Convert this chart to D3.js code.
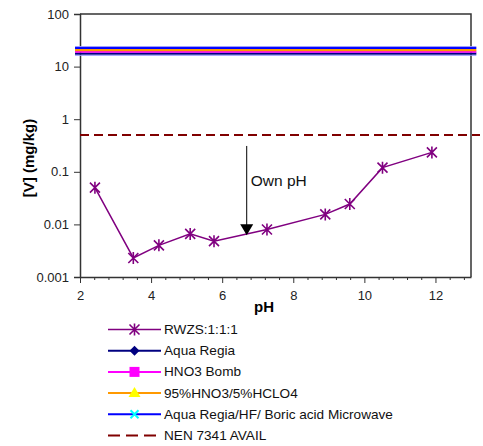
<!DOCTYPE html>
<html>
<head>
<meta charset="utf-8">
<script src="https://cdn.jsdelivr.net/npm/d3@7"></script>
<style>
  body { margin: 0; background: #fff; }
  text { font-family: "Liberation Sans", Arial, sans-serif; }
</style>
</head>
<body>
<div id="chart"></div>
<script>
// leachate data (pH vs V concentration)
const phValues = [2.42, 3.50, 4.22, 5.10, 5.77, 7.26, 8.90, 9.59, 10.51, 11.90];
const vValues = [0.050, 0.0023, 0.0040, 0.0066, 0.0048, 0.0080, 0.0155, 0.0244, 0.120, 0.234];

// total content lines (constant over pH)
const totalNames = ["Aqua Regia", "HNO3 Bomb", "95%HNO3/5%HCLO4", "Aqua Regia/HF/ Boric acid Microwave"];
const totalValues = [17.7, 19.3, 20.6, 22.5];
const totalPhRange = [1.86, 13.15];

// limit line
const nenName = "NEN 7341 AVAIL";
const nenValue = 0.5;

// arrow marking own pH
const ownPh = 6.69;
const ownPhFrom = 0.31;
const ownPhTo = 0.0062;

const yTicks = [0.001, 0.01, 0.1, 1, 10, 100];
const yTickLabels = ["0.001", "0.01", "0.1", "1", "10", "100"];
const xTicks = [2, 4, 6, 8, 10, 12];

const svg = d3.select('#chart')
    .append('svg')
    .attr('width', 483)
    .attr('height', 446)
    .style('background-color', '#fff');

const margin = {top: 14, right: 12, bottom: 169, left: 80};
const plotW = 483 - margin.left - margin.right;
const plotH = 446 - margin.top - margin.bottom;

const x = d3.scaleLinear().domain([2, 13]).range([margin.left, margin.left + plotW]);
const y = d3.scaleLog().domain([0.001, 100]).range([margin.top + plotH, margin.top]);

const axisColor = '#333';

// plot frame (top and right)
svg.append('path')
    .attr('d', `M${x(2)},${y(100)}H${x(13)}V${y(0.001)}`)
    .attr('fill', 'none')
    .attr('stroke', axisColor)
    .attr('stroke-width', 1.5);

// y axis
const yAxis = svg.append('g')
    .attr('transform', `translate(${margin.left},0)`)
    .call(d3.axisLeft(y)
        .tickValues(yTicks)
        .tickFormat((d, i) => yTickLabels[i])
        .tickSize(6)
        .tickPadding(5));
yAxis.select('.domain').attr('stroke', axisColor).attr('stroke-width', 1.5);
yAxis.selectAll('line').attr('stroke', axisColor);
yAxis.selectAll('text').style('font-size', '13px').attr('fill', '#222');

// x axis - minor ticks every 0.4
const minorTicks = d3.range(0, 28).map(i => +(2 + i * 0.4).toFixed(1)).filter(v => v <= 13 && !xTicks.includes(v));
svg.append('g')
    .attr('transform', `translate(0,${margin.top + plotH})`)
    .call(d3.axisBottom(x).tickValues(minorTicks).tickFormat('').tickSize(3).tickSizeOuter(0))
    .call(g => g.selectAll('line').attr('stroke', axisColor))
    .call(g => g.select('.domain').remove());
const xAxis = svg.append('g')
    .attr('transform', `translate(0,${margin.top + plotH})`)
    .call(d3.axisBottom(x).tickValues(xTicks).tickFormat(d3.format('d')).tickSize(6).tickSizeOuter(0).tickPadding(8));
xAxis.select('.domain').attr('stroke', axisColor).attr('stroke-width', 1.5);
xAxis.selectAll('line').attr('stroke', axisColor);
xAxis.selectAll('text').style('font-size', '13px').attr('fill', '#222');

// axis titles
svg.append('text')
    .attr('x', 264)
    .attr('y', 312)
    .attr('text-anchor', 'middle')
    .style('font-size', '15px')
    .style('font-weight', 'bold')
    .text('pH');
svg.append('text')
    .attr('transform', `translate(34,158) rotate(-90)`)
    .attr('text-anchor', 'middle')
    .style('font-size', '15px')
    .style('font-weight', 'bold')
    .text('[V] (mg/kg)');

// series styles
const totalColors = ['#000080', '#ff00ff', '#ff9900', '#0000ff'];
const totalMarkers = ['diamond', 'square', 'triangle', 'cross'];
const totalMarkerFill = ['#000080', '#ff00ff', '#ffff00', '#00ffff'];
const purple = '#800080';
const nenColor = '#800000';

// total content lines
totalValues.forEach((v, i) => {
    svg.append('line')
        .attr('x1', x(totalPhRange[0]))
        .attr('x2', x(totalPhRange[1]))
        .attr('y1', y(v))
        .attr('y2', y(v))
        .attr('stroke', totalColors[i])
        .attr('stroke-width', i === 3 ? 2 : 2.2);
});
// light halo around the microwave line
svg.append('line')
    .attr('x1', x(totalPhRange[0]))
    .attr('x2', x(totalPhRange[1]))
    .attr('y1', y(totalValues[3]) - 1.5)
    .attr('y2', y(totalValues[3]) - 1.5)
    .attr('stroke', '#9999ff')
    .attr('stroke-width', 1);
svg.append('line')
    .attr('x1', x(totalPhRange[0]))
    .attr('x2', x(totalPhRange[1]))
    .attr('y1', y(totalValues[0]) + 1.8)
    .attr('y2', y(totalValues[0]) + 1.8)
    .attr('stroke', '#9999ff')
    .attr('stroke-width', 1);

// NEN limit
svg.append('line')
    .attr('x1', x(2))
    .attr('x2', x(13) + 9)
    .attr('y1', y(nenValue))
    .attr('y2', y(nenValue))
    .attr('stroke', nenColor)
    .attr('stroke-width', 2)
    .style('stroke-dasharray', '9,5');

// leachate series
const pts = phValues.map((p, i) => [x(p), y(vValues[i])]);
svg.append('path')
    .attr('d', d3.line()(pts))
    .attr('fill', 'none')
    .attr('stroke', purple)
    .attr('stroke-width', 1.5);

function star(g, cx, cy, color) {
    const r = 5;
    const d = `M${cx - r},${cy - r}L${cx + r},${cy + r}M${cx - r},${cy + r}L${cx + r},${cy - r}M${cx},${cy - r - 1}L${cx},${cy + r + 1}`;
    g.append('path').attr('d', d).attr('stroke', color).attr('stroke-width', 1.6).attr('fill', 'none');
}
const starG = svg.append('g');
pts.forEach(p => star(starG, p[0], p[1], purple));

// own pH arrow
svg.append('line')
    .attr('x1', x(ownPh))
    .attr('x2', x(ownPh))
    .attr('y1', y(ownPhFrom))
    .attr('y2', y(ownPhTo) - 10)
    .attr('stroke', '#000')
    .attr('stroke-width', 1);
svg.append('path')
    .attr('d', `M${x(ownPh) - 6.5},${y(ownPhTo) - 11}L${x(ownPh) + 6.5},${y(ownPhTo) - 11}L${x(ownPh)},${y(ownPhTo)}Z`)
    .attr('fill', '#000');
svg.append('text')
    .attr('x', x(ownPh) + 4)
    .attr('y', 186)
    .style('font-size', '15.5px')
    .attr('fill', '#111')
    .text('Own pH');

// legend
const legendNames = ["RWZS:1:1:1"].concat(totalNames).concat([nenName]);
const legendColors = [purple].concat(totalColors).concat([nenColor]);
const legendMarkers = ['star'].concat(totalMarkers).concat(['dash']);
const legendFill = [purple].concat(totalMarkerFill).concat([nenColor]);
const legend = svg.append('g');
const lx0 = 108, lx1 = 161, ly0 = 329.5, lstep = 21.2;

legendNames.forEach((name, i) => {
    const ly = ly0 + i * lstep;
    const cx = (lx0 + lx1) / 2;
    if (legendMarkers[i] === 'dash') {
        legend.append('line')
            .attr('x1', lx0).attr('x2', lx1 - 4)
            .attr('y1', ly).attr('y2', ly)
            .attr('stroke', legendColors[i])
            .attr('stroke-width', 2)
            .style('stroke-dasharray', '12,6');
    } else {
        legend.append('line')
            .attr('x1', lx0).attr('x2', lx1)
            .attr('y1', ly).attr('y2', ly)
            .attr('stroke', legendColors[i])
            .attr('stroke-width', i === 0 ? 1.5 : 2);
    }
    const m = legendMarkers[i];
    if (m === 'star') {
        star(legend, cx, ly, purple);
    } else if (m === 'diamond') {
        legend.append('path')
            .attr('d', `M${cx},${ly - 5}L${cx + 5},${ly}L${cx},${ly + 5}L${cx - 5},${ly}Z`)
            .attr('fill', legendFill[i]);
    } else if (m === 'square') {
        legend.append('rect')
            .attr('x', cx - 5).attr('y', ly - 5)
            .attr('width', 10).attr('height', 10)
            .attr('fill', legendFill[i]);
    } else if (m === 'triangle') {
        legend.append('path')
            .attr('d', `M${cx},${ly - 6}L${cx + 6},${ly + 4}L${cx - 6},${ly + 4}Z`)
            .attr('fill', legendFill[i]);
    } else if (m === 'cross') {
        legend.append('path')
            .attr('d', `M${cx - 4},${ly - 4}L${cx + 4},${ly + 4}M${cx - 4},${ly + 4}L${cx + 4},${ly - 4}`)
            .attr('stroke', legendFill[i])
            .attr('stroke-width', 2);
    }
    legend.append('text')
        .attr('x', lx1 + 3)
        .attr('y', ly)
        .attr('dominant-baseline', 'central')
        .style('font-size', '13.6px')
        .attr('fill', '#111')
        .text(name);
});
</script>
</body>
</html>
